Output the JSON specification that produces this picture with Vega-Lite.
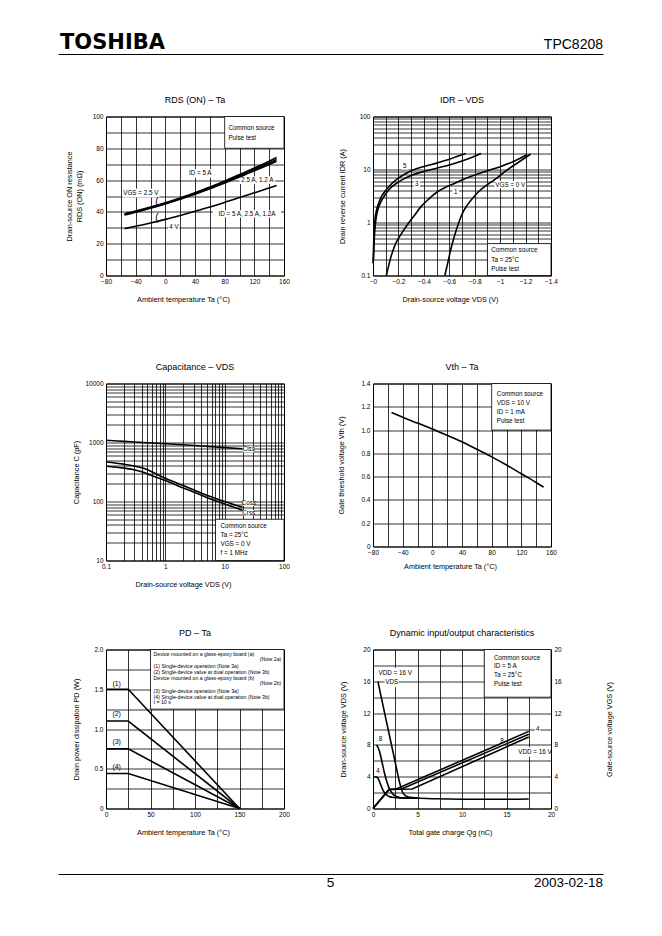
{
"$schema": "https://vega.github.io/schema/vega-lite/v6.json",
"background": "white",
"padding": {"left": 60, "top": 32, "right": 0, "bottom": 0},
"config": {
  "font": "Liberation Sans",
  "view": {"stroke": "black", "strokeWidth": 1},
  "axis": {"grid": true, "gridColor": "black", "gridOpacity": 1, "gridWidth": 0.8, "domain": false, "ticks": false, "tickCount": 1000, "labelFont": "Liberation Sans", "labelFontSize": 6.5, "labelColor": "black", "labelPadding": 3, "labelFlush": false, "labelOverlap": false, "labelBound": false, "titleFont": "Liberation Sans", "titleFontSize": 7.3, "titleFontWeight": "normal", "titleColor": "black"},
  "axisX": {"titleY": 25.5, "titleX": 77, "titleBaseline": "alphabetic"},
  "axisY": {"titleBaseline": "middle"},
  "title": {"font": "Liberation Sans", "fontSize": 9, "fontWeight": "normal", "color": "black", "offset": 9, "baseline": "bottom", "frame": "group"},
  "text": {"font": "Liberation Sans", "fontSize": 6.3, "color": "black"},
  "line": {"color": "black", "strokeWidth": 1.6}
},
"spacing": 37.5,
"vconcat": [
{
  "width": 497, "height": 10, "view": {"stroke": null},
  "layer": [
    {"data": {"values": [{"t": "TOSHIBA", "p": 0}]},
     "mark": {"type": "text", "align": "left", "baseline": "alphabetic", "font": "DejaVu Sans", "fontSize": 21, "fontWeight": "bold", "dx": 2},
     "encoding": {"x": {"field": "p", "type": "quantitative", "scale": {"domain": [0, 1], "range": [-48, 497]}, "axis": {"orient": "bottom", "domain": true, "domainColor": "black", "domainWidth": 1.2, "grid": false, "labels": false, "ticks": true, "values": [0.5], "tickColor": "transparent", "tickSize": 2, "title": null}}, "text": {"field": "t"}}},
    {"data": {"values": [{"t": "TPC8208", "p": 1}]},
     "mark": {"type": "text", "align": "right", "baseline": "alphabetic", "fontSize": 14},
     "encoding": {"x": {"field": "p", "type": "quantitative", "scale": {"domain": [0, 1], "range": [-48, 497]}}, "text": {"field": "t"}}}
  ]
},
{
  "columns": 2, "bounds": "flush", "align": "each", "spacing": {"row": 0, "column": 89},
  "concat": [
  {
    "width": 178, "height": 159, "title": "RDS (ON) – Ta",
    "layer": [
      {"data": {"values": [{"x": 80, "x2": 160, "y": 80, "y2": 100}]},
       "mark": {"type": "rect", "fill": "white", "stroke": "black", "strokeWidth": 0.8},
       "encoding": {"x": {"field": "x", "type": "quantitative", "scale": {"domain": [-80, 160], "nice": false, "zero": false}}, "x2": {"field": "x2"}, "y": {"field": "y", "type": "quantitative", "scale": {"domain": [0, 100], "nice": false, "zero": false}}, "y2": {"field": "y2"}}},
      {"data": {"values": [{"x": 28, "x2": 66, "y": 61.5, "y2": 67}, {"x": 100, "x2": 148, "y": 57.5, "y2": 62.5}, {"x": -58, "x2": -8, "y": 49, "y2": 54.5}, {"x": 64, "x2": 156, "y": 36.5, "y2": 41}, {"x": 4, "x2": 19, "y": 28, "y2": 32.5}]},
       "mark": {"type": "rect", "fill": "white"},
       "encoding": {"x": {"field": "x", "type": "quantitative", "scale": {"domain": [-80, 160], "nice": false, "zero": false}}, "x2": {"field": "x2"}, "y": {"field": "y", "type": "quantitative", "scale": {"domain": [0, 100], "nice": false, "zero": false}}, "y2": {"field": "y2"}}},
      {"data": {"values": [
        {"s": "a", "x": -55, "y": 38.8}, {"s": "a", "x": -40, "y": 40.5}, {"s": "a", "x": -20, "y": 43}, {"s": "a", "x": 0, "y": 45.8}, {"s": "a", "x": 20, "y": 48.8}, {"s": "a", "x": 40, "y": 52}, {"s": "a", "x": 60, "y": 55.6}, {"s": "a", "x": 80, "y": 59.5}, {"s": "a", "x": 100, "y": 63.5}, {"s": "a", "x": 120, "y": 67.6}, {"s": "a", "x": 140, "y": 71.9}, {"s": "a", "x": 150, "y": 74.2},
        {"s": "b", "x": -55, "y": 38.4}, {"s": "b", "x": -40, "y": 40.1}, {"s": "b", "x": -20, "y": 42.6}, {"s": "b", "x": 0, "y": 45.3}, {"s": "b", "x": 20, "y": 48.3}, {"s": "b", "x": 40, "y": 51.5}, {"s": "b", "x": 60, "y": 55}, {"s": "b", "x": 80, "y": 58.8}, {"s": "b", "x": 100, "y": 62.7}, {"s": "b", "x": 120, "y": 66.6}, {"s": "b", "x": 140, "y": 70.7}, {"s": "b", "x": 150, "y": 72.9},
        {"s": "c", "x": -55, "y": 38.1}, {"s": "c", "x": -40, "y": 39.8}, {"s": "c", "x": -20, "y": 42.3}, {"s": "c", "x": 0, "y": 45}, {"s": "c", "x": 20, "y": 48}, {"s": "c", "x": 40, "y": 51.1}, {"s": "c", "x": 60, "y": 54.5}, {"s": "c", "x": 80, "y": 58.2}, {"s": "c", "x": 100, "y": 62}, {"s": "c", "x": 120, "y": 65.8}, {"s": "c", "x": 140, "y": 69.8}, {"s": "c", "x": 150, "y": 71.9},
        {"s": "d", "x": -55, "y": 29.5}, {"s": "d", "x": -40, "y": 31}, {"s": "d", "x": -20, "y": 33}, {"s": "d", "x": 0, "y": 35.3}, {"s": "d", "x": 20, "y": 37.8}, {"s": "d", "x": 40, "y": 40.4}, {"s": "d", "x": 60, "y": 43.1}, {"s": "d", "x": 80, "y": 46}, {"s": "d", "x": 100, "y": 49}, {"s": "d", "x": 120, "y": 52}, {"s": "d", "x": 140, "y": 55}, {"s": "d", "x": 150, "y": 56.6}]},
       "mark": {"type": "line", "interpolate": "monotone"},
       "encoding": {
         "x": {"field": "x", "type": "quantitative", "scale": {"domain": [-80, 160], "nice": false, "zero": false}, "axis": {"values": [-80, -60, -40, -20, 0, 20, 40, 60, 80, 100, 120, 140, 160], "labelExpr": "datum.value % 40 == 0 ? format(datum.value, 'd') : ''", "title": "Ambient temperature   Ta   (°C)"}},
         "y": {"field": "y", "type": "quantitative", "scale": {"domain": [0, 100], "nice": false, "zero": false}, "axis": {"values": [0, 10, 20, 30, 40, 50, 60, 70, 80, 90, 100], "labelExpr": "datum.value % 20 == 0 ? format(datum.value, 'd') : ''", "title": ["Drain-source ON resistance", "RDS (ON)    (mΩ)"], "titleX": -37, "titleLineHeight": 10}},
         "detail": {"field": "s"}}},
      {"data": {"values": [{"x": 47, "y": 64.3, "t": "ID = 5 A"}, {"x": 124, "y": 60, "t": "2.5 A, 1.2 A"}, {"x": -33, "y": 51.6, "t": "VGS = 2.5 V"}, {"x": 110, "y": 38.8, "t": "ID = 5 A, 2.5 A, 1.2A"}, {"x": 11.5, "y": 30.2, "t": "4 V"}]},
       "mark": {"type": "text", "baseline": "middle"},
       "encoding": {"x": {"field": "x", "type": "quantitative", "scale": {"domain": [-80, 160], "nice": false, "zero": false}}, "y": {"field": "y", "type": "quantitative", "scale": {"domain": [0, 100], "nice": false, "zero": false}}, "text": {"field": "t"}}},
      {"data": {"values": [{"x": -11.5, "y": 46.5, "t": "("}, {"x": -11.5, "y": 36.3, "t": "("}]},
       "mark": {"type": "text", "baseline": "middle", "fontSize": 10},
       "encoding": {"x": {"field": "x", "type": "quantitative", "scale": {"domain": [-80, 160], "nice": false, "zero": false}}, "y": {"field": "y", "type": "quantitative", "scale": {"domain": [0, 100], "nice": false, "zero": false}}, "text": {"field": "t"}}},
      {"data": {"values": [{"x": 85, "y": 93, "t": "Common source"}, {"x": 85, "y": 86.5, "t": "Pulse test"}]},
       "mark": {"type": "text", "baseline": "middle", "align": "left"},
       "encoding": {"x": {"field": "x", "type": "quantitative", "scale": {"domain": [-80, 160], "nice": false, "zero": false}}, "y": {"field": "y", "type": "quantitative", "scale": {"domain": [0, 100], "nice": false, "zero": false}}, "text": {"field": "t"}}}
    ]
  },
  {
    "width": 178, "height": 159, "title": "IDR – VDS",
    "layer": [
      {"data": {"values": [{"x": -0.9, "x2": -1.4, "y": 0.1, "y2": 0.4}]},
       "mark": {"type": "rect", "fill": "white", "stroke": "black", "strokeWidth": 0.8},
       "encoding": {"x": {"field": "x", "type": "quantitative", "scale": {"domain": [-1.4, 0], "reverse": true, "nice": false, "zero": false}}, "x2": {"field": "x2"}, "y": {"field": "y", "type": "quantitative", "scale": {"type": "log", "domain": [0.1, 100], "nice": false}}, "y2": {"field": "y2"}}},
      {"data": {"values": [{"x": -0.225, "x2": -0.275, "y": 10, "y2": 13.5}, {"x": -0.32, "x2": -0.37, "y": 4.6, "y2": 6.3}, {"x": -0.625, "x2": -0.675, "y": 3.25, "y2": 4.45}, {"x": -0.955, "x2": -1.205, "y": 4.45, "y2": 6.1}]},
       "mark": {"type": "rect", "fill": "white"},
       "encoding": {"x": {"field": "x", "type": "quantitative", "scale": {"domain": [-1.4, 0], "reverse": true, "nice": false, "zero": false}}, "x2": {"field": "x2"}, "y": {"field": "y", "type": "quantitative", "scale": {"type": "log", "domain": [0.1, 100], "nice": false}}, "y2": {"field": "y2"}}},
      {"data": {"values": [
        {"s": "0", "x": -1.24, "y": 19.5}, {"s": "0", "x": -1.15, "y": 14}, {"s": "0", "x": -1.05, "y": 9.6}, {"s": "0", "x": -0.96, "y": 6.5}, {"s": "0", "x": -0.9, "y": 5.2}, {"s": "0", "x": -0.83, "y": 3.8}, {"s": "0", "x": -0.79, "y": 3.0}, {"s": "0", "x": -0.74, "y": 2.1}, {"s": "0", "x": -0.71, "y": 1.6}, {"s": "0", "x": -0.675, "y": 1.0}, {"s": "0", "x": -0.64, "y": 0.55}, {"s": "0", "x": -0.61, "y": 0.3}, {"s": "0", "x": -0.585, "y": 0.16}, {"s": "0", "x": -0.565, "y": 0.1},
        {"s": "1", "x": -1.21, "y": 19}, {"s": "1", "x": -1.1, "y": 14}, {"s": "1", "x": -1.0, "y": 11.3}, {"s": "1", "x": -0.9, "y": 9.5}, {"s": "1", "x": -0.79, "y": 7.7}, {"s": "1", "x": -0.71, "y": 6.5}, {"s": "1", "x": -0.636, "y": 5.4}, {"s": "1", "x": -0.57, "y": 4.6}, {"s": "1", "x": -0.505, "y": 3.76}, {"s": "1", "x": -0.44, "y": 2.8}, {"s": "1", "x": -0.374, "y": 1.95}, {"s": "1", "x": -0.33, "y": 1.4}, {"s": "1", "x": -0.283, "y": 1.0}, {"s": "1", "x": -0.23, "y": 0.65}, {"s": "1", "x": -0.178, "y": 0.4}, {"s": "1", "x": -0.14, "y": 0.22}, {"s": "1", "x": -0.105, "y": 0.1},
        {"s": "3", "x": -0.85, "y": 20}, {"s": "3", "x": -0.78, "y": 17}, {"s": "3", "x": -0.7, "y": 14.5}, {"s": "3", "x": -0.6, "y": 12.2}, {"s": "3", "x": -0.5, "y": 10.6}, {"s": "3", "x": -0.4, "y": 9.2}, {"s": "3", "x": -0.3, "y": 7.7}, {"s": "3", "x": -0.25, "y": 6.8}, {"s": "3", "x": -0.19, "y": 5.6}, {"s": "3", "x": -0.13, "y": 4.3}, {"s": "3", "x": -0.09, "y": 3.2}, {"s": "3", "x": -0.06, "y": 2.4}, {"s": "3", "x": -0.04, "y": 1.8}, {"s": "3", "x": -0.02, "y": 1.0}, {"s": "3", "x": -0.01, "y": 0.5}, {"s": "3", "x": -0.005, "y": 0.25}, {"s": "3", "x": -0.002, "y": 0.17},
        {"s": "5", "x": -0.73, "y": 20}, {"s": "5", "x": -0.67, "y": 18}, {"s": "5", "x": -0.6, "y": 15.6}, {"s": "5", "x": -0.5, "y": 13.2}, {"s": "5", "x": -0.4, "y": 11.4}, {"s": "5", "x": -0.33, "y": 10.1}, {"s": "5", "x": -0.27, "y": 8.7}, {"s": "5", "x": -0.2, "y": 6.9}, {"s": "5", "x": -0.14, "y": 5.2}, {"s": "5", "x": -0.1, "y": 4.0}, {"s": "5", "x": -0.07, "y": 3.2}, {"s": "5", "x": -0.047, "y": 2.4}, {"s": "5", "x": -0.03, "y": 1.8}, {"s": "5", "x": -0.013, "y": 1.0}, {"s": "5", "x": -0.007, "y": 0.5}, {"s": "5", "x": -0.003, "y": 0.25}, {"s": "5", "x": -0.001, "y": 0.17}]},
       "mark": {"type": "line", "interpolate": "monotone"},
       "encoding": {
         "x": {"field": "x", "type": "quantitative", "scale": {"domain": [-1.4, 0], "reverse": true, "nice": false, "zero": false}, "axis": {"values": [-1.4, -1.3, -1.2, -1.1, -1, -0.9, -0.8, -0.7, -0.6, -0.5, -0.4, -0.3, -0.2, -0.1, 0], "labelExpr": "abs(round(datum.value * 10)) % 2 == 0 ? (datum.value == 0 ? '−0' : format(datum.value, '~g')) : ''", "title": "Drain-source voltage   VDS   (V)"}},
         "y": {"field": "y", "type": "quantitative", "scale": {"type": "log", "domain": [0.1, 100], "nice": false}, "axis": {"values": [0.1, 0.2, 0.3, 0.4, 0.5, 0.6, 0.7, 0.8, 0.9, 1, 2, 3, 4, 5, 6, 7, 8, 9, 10, 20, 30, 40, 50, 60, 70, 80, 90, 100], "labelExpr": "datum.value == 0.1 ? '0.1' : datum.value == 1 ? '1' : datum.value == 10 ? '10' : datum.value == 100 ? '100' : ''", "title": "Drain reverse current    IDR    (A)", "titleX": -31}},
         "detail": {"field": "s"}}},
      {"data": {"values": [{"x": -0.25, "y": 11.6, "t": "5"}, {"x": -0.345, "y": 5.4, "t": "3"}, {"x": -0.65, "y": 3.8, "t": "1"}, {"x": -1.08, "y": 5.2, "t": "VGS = 0 V"}]},
       "mark": {"type": "text", "baseline": "middle"},
       "encoding": {"x": {"field": "x", "type": "quantitative", "scale": {"domain": [-1.4, 0], "reverse": true, "nice": false, "zero": false}}, "y": {"field": "y", "type": "quantitative", "scale": {"type": "log", "domain": [0.1, 100], "nice": false}}, "text": {"field": "t"}}},
      {"data": {"values": [{"x": -0.93, "y": 0.3, "t": "Common source"}, {"x": -0.93, "y": 0.2, "t": "Ta = 25°C"}, {"x": -0.93, "y": 0.134, "t": "Pulse test"}]},
       "mark": {"type": "text", "baseline": "middle", "align": "left"},
       "encoding": {"x": {"field": "x", "type": "quantitative", "scale": {"domain": [-1.4, 0], "reverse": true, "nice": false, "zero": false}}, "y": {"field": "y", "type": "quantitative", "scale": {"type": "log", "domain": [0.1, 100], "nice": false}}, "text": {"field": "t"}}}
    ]
  },
  {"width": 178, "height": 108, "data": {"values": []}, "mark": "point", "view": {"stroke": null}},
  {"width": 178, "height": 108, "data": {"values": []}, "mark": "point", "view": {"stroke": null}},
  {
    "width": 178, "height": 177, "title": "Capacitance – VDS",
    "layer": [
      {"data": {"values": [{"x": 7, "x2": 100, "y": 10, "y2": 50}]},
       "mark": {"type": "rect", "fill": "white", "stroke": "black", "strokeWidth": 0.8},
       "encoding": {"x": {"field": "x", "type": "quantitative", "scale": {"type": "log", "domain": [0.1, 100], "nice": false}}, "x2": {"field": "x2"}, "y": {"field": "y", "type": "quantitative", "scale": {"type": "log", "domain": [10, 10000], "nice": false}}, "y2": {"field": "y2"}}},
      {"data": {"values": [{"x": 20.5, "x2": 31, "y": 680, "y2": 860}, {"x": 20.5, "x2": 31, "y": 84, "y2": 103}, {"x": 20.5, "x2": 31, "y": 58, "y2": 72}]},
       "mark": {"type": "rect", "fill": "white"},
       "encoding": {"x": {"field": "x", "type": "quantitative", "scale": {"type": "log", "domain": [0.1, 100], "nice": false}}, "x2": {"field": "x2"}, "y": {"field": "y", "type": "quantitative", "scale": {"type": "log", "domain": [10, 10000], "nice": false}}, "y2": {"field": "y2"}}},
      {"data": {"values": [
        {"s": "Ciss", "x": 0.1, "y": 1090}, {"s": "Ciss", "x": 0.2, "y": 1045}, {"s": "Ciss", "x": 0.5, "y": 990}, {"s": "Ciss", "x": 1, "y": 955}, {"s": "Ciss", "x": 2, "y": 915}, {"s": "Ciss", "x": 5, "y": 860}, {"s": "Ciss", "x": 10, "y": 820}, {"s": "Ciss", "x": 20, "y": 785},
        {"s": "Coss", "x": 0.1, "y": 468}, {"s": "Coss", "x": 0.2, "y": 430}, {"s": "Coss", "x": 0.3, "y": 400}, {"s": "Coss", "x": 0.4, "y": 372}, {"s": "Coss", "x": 0.5, "y": 345}, {"s": "Coss", "x": 0.7, "y": 292}, {"s": "Coss", "x": 1, "y": 248}, {"s": "Coss", "x": 2, "y": 186}, {"s": "Coss", "x": 3, "y": 158}, {"s": "Coss", "x": 5, "y": 128}, {"s": "Coss", "x": 10, "y": 100}, {"s": "Coss", "x": 20, "y": 80},
        {"s": "Crss", "x": 0.1, "y": 395}, {"s": "Crss", "x": 0.2, "y": 368}, {"s": "Crss", "x": 0.3, "y": 345}, {"s": "Crss", "x": 0.4, "y": 318}, {"s": "Crss", "x": 0.5, "y": 293}, {"s": "Crss", "x": 0.7, "y": 258}, {"s": "Crss", "x": 1, "y": 226}, {"s": "Crss", "x": 2, "y": 170}, {"s": "Crss", "x": 3, "y": 145}, {"s": "Crss", "x": 5, "y": 117}, {"s": "Crss", "x": 10, "y": 91}, {"s": "Crss", "x": 20, "y": 71}]},
       "mark": {"type": "line", "interpolate": "monotone"},
       "encoding": {
         "x": {"field": "x", "type": "quantitative", "scale": {"type": "log", "domain": [0.1, 100], "nice": false}, "axis": {"values": [0.1, 0.2, 0.3, 0.4, 0.5, 0.6, 0.7, 0.8, 0.9, 1, 2, 3, 4, 5, 6, 7, 8, 9, 10, 20, 30, 40, 50, 60, 70, 80, 90, 100], "labelExpr": "datum.value == 0.1 ? '0.1' : datum.value == 1 ? '1' : datum.value == 10 ? '10' : datum.value == 100 ? '100' : ''", "title": "Drain-source voltage   VDS   (V)"}},
         "y": {"field": "y", "type": "quantitative", "scale": {"type": "log", "domain": [10, 10000], "nice": false}, "axis": {"values": [10, 20, 30, 40, 50, 60, 70, 80, 90, 100, 200, 300, 400, 500, 600, 700, 800, 900, 1000, 2000, 3000, 4000, 5000, 6000, 7000, 8000, 9000, 10000], "labelExpr": "datum.value == 10 || datum.value == 100 || datum.value == 1000 || datum.value == 10000 ? format(datum.value, 'd') : ''", "title": "Capacitance    C    (pF)", "titleX": -30}},
         "detail": {"field": "s"}}},
      {"data": {"values": [{"x": 25.5, "y": 765, "t": "Ciss"}, {"x": 25.5, "y": 93, "t": "Coss"}, {"x": 25.5, "y": 65, "t": "Crss"}]},
       "mark": {"type": "text", "baseline": "middle"},
       "encoding": {"x": {"field": "x", "type": "quantitative", "scale": {"type": "log", "domain": [0.1, 100], "nice": false}}, "y": {"field": "y", "type": "quantitative", "scale": {"type": "log", "domain": [10, 10000], "nice": false}}, "text": {"field": "t"}}},
      {"data": {"values": [{"x": 8.5, "y": 38, "t": "Common source"}, {"x": 8.5, "y": 27, "t": "Ta = 25°C"}, {"x": 8.5, "y": 19.2, "t": "VGS = 0 V"}, {"x": 8.5, "y": 13.5, "t": "f = 1 MHz"}]},
       "mark": {"type": "text", "baseline": "middle", "align": "left"},
       "encoding": {"x": {"field": "x", "type": "quantitative", "scale": {"type": "log", "domain": [0.1, 100], "nice": false}}, "y": {"field": "y", "type": "quantitative", "scale": {"type": "log", "domain": [10, 10000], "nice": false}}, "text": {"field": "t"}}}
    ]
  },
  {
    "width": 178, "height": 163, "title": "Vth – Ta",
    "layer": [
      {"data": {"values": [{"x": 80, "x2": 160, "y": 1.0, "y2": 1.4}]},
       "mark": {"type": "rect", "fill": "white", "stroke": "black", "strokeWidth": 0.8},
       "encoding": {"x": {"field": "x", "type": "quantitative", "scale": {"domain": [-80, 160], "nice": false, "zero": false}}, "x2": {"field": "x2"}, "y": {"field": "y", "type": "quantitative", "scale": {"domain": [0, 1.4], "nice": false, "zero": false}}, "y2": {"field": "y2"}}},
      {"data": {"values": [{"x": -55, "y": 1.15}, {"x": -40, "y": 1.11}, {"x": -20, "y": 1.06}, {"x": 0, "y": 1.01}, {"x": 20, "y": 0.955}, {"x": 40, "y": 0.9}, {"x": 60, "y": 0.835}, {"x": 80, "y": 0.77}, {"x": 100, "y": 0.7}, {"x": 120, "y": 0.625}, {"x": 140, "y": 0.55}, {"x": 150, "y": 0.51}]},
       "mark": {"type": "line", "interpolate": "monotone"},
       "encoding": {
         "x": {"field": "x", "type": "quantitative", "scale": {"domain": [-80, 160], "nice": false, "zero": false}, "axis": {"values": [-80, -60, -40, -20, 0, 20, 40, 60, 80, 100, 120, 140, 160], "labelExpr": "datum.value % 40 == 0 ? format(datum.value, 'd') : ''", "title": "Ambient temperature   Ta   (°C)", "titleY": 22}},
         "y": {"field": "y", "type": "quantitative", "scale": {"domain": [0, 1.4], "nice": false, "zero": false}, "axis": {"values": [0, 0.2, 0.4, 0.6, 0.8, 1, 1.2, 1.4], "labelExpr": "datum.value == 0 ? '0' : format(datum.value, '.1f')", "title": "Gate threshold voltage    Vth    (V)", "titleX": -32}}}},
      {"data": {"values": [{"x": 87, "y": 1.31, "t": "Common source"}, {"x": 87, "y": 1.235, "t": "VDS = 10 V"}, {"x": 87, "y": 1.157, "t": "ID = 1 mA"}, {"x": 87, "y": 1.08, "t": "Pulse test"}]},
       "mark": {"type": "text", "baseline": "middle", "align": "left"},
       "encoding": {"x": {"field": "x", "type": "quantitative", "scale": {"domain": [-80, 160], "nice": false, "zero": false}}, "y": {"field": "y", "type": "quantitative", "scale": {"domain": [0, 1.4], "nice": false, "zero": false}}, "text": {"field": "t"}}}
    ]
  },
  {"width": 178, "height": 89, "data": {"values": []}, "mark": "point", "view": {"stroke": null}},
  {"width": 178, "height": 89, "data": {"values": []}, "mark": "point", "view": {"stroke": null}},
  {
    "width": 178, "height": 159, "title": "PD – Ta",
    "layer": [
      {"data": {"values": [{"x": 50, "x2": 200, "y": 1.25, "y2": 2.0}]},
       "mark": {"type": "rect", "fill": "white", "stroke": "black", "strokeWidth": 0.8},
       "encoding": {"x": {"field": "x", "type": "quantitative", "scale": {"domain": [0, 200], "nice": false, "zero": false}}, "x2": {"field": "x2"}, "y": {"field": "y", "type": "quantitative", "scale": {"domain": [0, 2], "nice": false, "zero": false}}, "y2": {"field": "y2"}}},
      {"data": {"values": [
        {"s": "1", "x": 0, "y": 1.5}, {"s": "1", "x": 25, "y": 1.5}, {"s": "1", "x": 150, "y": 0},
        {"s": "2", "x": 0, "y": 1.1}, {"s": "2", "x": 25, "y": 1.1}, {"s": "2", "x": 150, "y": 0},
        {"s": "3", "x": 0, "y": 0.75}, {"s": "3", "x": 25, "y": 0.75}, {"s": "3", "x": 150, "y": 0},
        {"s": "4", "x": 0, "y": 0.44}, {"s": "4", "x": 25, "y": 0.44}, {"s": "4", "x": 150, "y": 0}]},
       "mark": {"type": "line"},
       "encoding": {
         "x": {"field": "x", "type": "quantitative", "scale": {"domain": [0, 200], "nice": false, "zero": false}, "axis": {"values": [0, 25, 50, 75, 100, 125, 150, 175, 200], "labelExpr": "datum.value % 50 == 0 ? format(datum.value, 'd') : ''", "title": "Ambient temperature   Ta   (°C)"}},
         "y": {"field": "y", "type": "quantitative", "scale": {"domain": [0, 2], "nice": false, "zero": false}, "axis": {"values": [0, 0.25, 0.5, 0.75, 1, 1.25, 1.5, 1.75, 2], "labelExpr": "(datum.value * 2) % 1 == 0 ? (datum.value == 0 ? '0' : format(datum.value, '.1f')) : ''", "title": "Drain power dissipation    PD    (W)", "titleX": -30}},
         "detail": {"field": "s"}}},
      {"data": {"values": [{"x": 12, "y": 1.57, "t": "(1)"}, {"x": 12, "y": 1.19, "t": "(2)"}, {"x": 12, "y": 0.835, "t": "(3)"}, {"x": 12, "y": 0.52, "t": "(4)"}]},
       "mark": {"type": "text", "baseline": "middle", "fontSize": 7},
       "encoding": {"x": {"field": "x", "type": "quantitative", "scale": {"domain": [0, 200], "nice": false, "zero": false}}, "y": {"field": "y", "type": "quantitative", "scale": {"domain": [0, 2], "nice": false, "zero": false}}, "text": {"field": "t"}}},
      {"data": {"values": [{"x": 53.5, "y": 1.946, "t": "Device mounted on a glass-epoxy board (a)"}, {"x": 53.5, "y": 1.787, "t": "(1) Single-device operation (Note 3a)"}, {"x": 53.5, "y": 1.716, "t": "(2) Single-device value at dual operation (Note 3b)"}, {"x": 53.5, "y": 1.645, "t": "Device mounted on a glass-epoxy board (b)"}, {"x": 53.5, "y": 1.474, "t": "(3) Single-device operation (Note 3a)"}, {"x": 53.5, "y": 1.407, "t": "(4) Single-device value at dual operation (Note 3b)"}, {"x": 53.5, "y": 1.336, "t": "t = 10 s"}]},
       "mark": {"type": "text", "baseline": "middle", "align": "left", "fontSize": 5.2},
       "encoding": {"x": {"field": "x", "type": "quantitative", "scale": {"domain": [0, 200], "nice": false, "zero": false}}, "y": {"field": "y", "type": "quantitative", "scale": {"domain": [0, 2], "nice": false, "zero": false}}, "text": {"field": "t"}}},
      {"data": {"values": [{"x": 197, "y": 1.883, "t": "(Note 2a)"}, {"x": 197, "y": 1.574, "t": "(Note 2b)"}]},
       "mark": {"type": "text", "baseline": "middle", "align": "right", "fontSize": 5.2},
       "encoding": {"x": {"field": "x", "type": "quantitative", "scale": {"domain": [0, 200], "nice": false, "zero": false}}, "y": {"field": "y", "type": "quantitative", "scale": {"domain": [0, 2], "nice": false, "zero": false}}, "text": {"field": "t"}}}
    ]
  },
  {
    "width": 178, "height": 159, "title": "Dynamic input/output characteristics",
    "resolve": {"scale": {"y": "independent"}},
    "layer": [
      {"layer": [
        {"data": {"values": [{"x": 12.5, "x2": 20, "y": 14, "y2": 20}]},
         "mark": {"type": "rect", "fill": "white", "stroke": "black", "strokeWidth": 0.8},
         "encoding": {"x": {"field": "x", "type": "quantitative", "scale": {"domain": [0, 20], "nice": false, "zero": false}}, "x2": {"field": "x2"}, "y": {"field": "y", "type": "quantitative", "scale": {"domain": [0, 20], "nice": false, "zero": false}}, "y2": {"field": "y2"}}},
        {"data": {"values": [{"x": 0.35, "x2": 4.65, "y": 16.3, "y2": 17.7}, {"x": 1.3, "x2": 2.9, "y": 15.25, "y2": 16.55}, {"x": 0.6, "x2": 1.1, "y": 8.1, "y2": 9.3}, {"x": 0.33, "x2": 0.8, "y": 4.15, "y2": 5.35}, {"x": 14.2, "x2": 14.8, "y": 7.9, "y2": 9.1}, {"x": 18.2, "x2": 18.8, "y": 9.4, "y2": 10.6}, {"x": 16.45, "x2": 19.9, "y": 6.5, "y2": 7.7}]},
         "mark": {"type": "rect", "fill": "white"},
         "encoding": {"x": {"field": "x", "type": "quantitative", "scale": {"domain": [0, 20], "nice": false, "zero": false}}, "x2": {"field": "x2"}, "y": {"field": "y", "type": "quantitative", "scale": {"domain": [0, 20], "nice": false, "zero": false}}, "y2": {"field": "y2"}}},
        {"data": {"values": [
          {"s": "16", "x": 0.55, "y": 16}, {"s": "16", "x": 1, "y": 13.6}, {"s": "16", "x": 1.5, "y": 11}, {"s": "16", "x": 2, "y": 8.4}, {"s": "16", "x": 2.5, "y": 5.8}, {"s": "16", "x": 2.8, "y": 4.2}, {"s": "16", "x": 3.05, "y": 3.0}, {"s": "16", "x": 3.3, "y": 2.1}, {"s": "16", "x": 3.6, "y": 1.65}, {"s": "16", "x": 4, "y": 1.45}, {"s": "16", "x": 5, "y": 1.32}, {"s": "16", "x": 7, "y": 1.22}, {"s": "16", "x": 10, "y": 1.16}, {"s": "16", "x": 14, "y": 1.16}, {"s": "16", "x": 17.5, "y": 1.2},
          {"s": "8", "x": 0.4, "y": 8}, {"s": "8", "x": 0.7, "y": 7.3}, {"s": "8", "x": 1.0, "y": 5.9}, {"s": "8", "x": 1.3, "y": 4.4}, {"s": "8", "x": 1.6, "y": 3.2}, {"s": "8", "x": 1.9, "y": 2.35}, {"s": "8", "x": 2.3, "y": 1.75}, {"s": "8", "x": 2.8, "y": 1.45}, {"s": "8", "x": 3.5, "y": 1.33}, {"s": "8", "x": 5, "y": 1.3},
          {"s": "4", "x": 0.15, "y": 4}, {"s": "4", "x": 0.5, "y": 3.9}, {"s": "4", "x": 0.8, "y": 3.2}, {"s": "4", "x": 1.1, "y": 2.35}, {"s": "4", "x": 1.4, "y": 1.85}, {"s": "4", "x": 1.8, "y": 1.52}, {"s": "4", "x": 2.4, "y": 1.38}, {"s": "4", "x": 3.5, "y": 1.31}, {"s": "4", "x": 5, "y": 1.3}]},
         "mark": {"type": "line", "interpolate": "monotone"},
         "encoding": {
           "x": {"field": "x", "type": "quantitative", "scale": {"domain": [0, 20], "nice": false, "zero": false}, "axis": {"values": [0, 2.5, 5, 7.5, 10, 12.5, 15, 17.5, 20], "labelExpr": "datum.value % 5 == 0 ? format(datum.value, 'd') : ''", "title": "Total gate charge   Qg   (nC)"}},
           "y": {"field": "y", "type": "quantitative", "scale": {"domain": [0, 20], "nice": false, "zero": false}, "axis": {"values": [0, 2, 4, 6, 8, 10, 12, 14, 16, 18, 20], "labelExpr": "datum.value % 4 == 0 ? format(datum.value, 'd') : ''", "title": "Drain-source voltage    VDS    (V)", "titleX": -30}},
           "detail": {"field": "s"}}},
        {"data": {"values": [{"x": 2.5, "y": 17, "t": "VDD = 16 V"}, {"x": 2.1, "y": 15.9, "t": "VDS"}, {"x": 0.85, "y": 8.7, "t": "8"}, {"x": 0.56, "y": 4.75, "t": "4"}, {"x": 14.5, "y": 8.5, "t": "8"}, {"x": 18.5, "y": 10, "t": "4"}, {"x": 18.2, "y": 7.1, "t": "VDD = 16 V"}]},
         "mark": {"type": "text", "baseline": "middle"},
         "encoding": {"x": {"field": "x", "type": "quantitative", "scale": {"domain": [0, 20], "nice": false, "zero": false}}, "y": {"field": "y", "type": "quantitative", "scale": {"domain": [0, 20], "nice": false, "zero": false}}, "text": {"field": "t"}}},
        {"data": {"values": [{"x": 13.6, "y": 18.95, "t": "Common source"}, {"x": 13.6, "y": 17.87, "t": "ID = 5 A"}, {"x": 13.6, "y": 16.74, "t": "Ta = 25°C"}, {"x": 13.6, "y": 15.6, "t": "Pulse test"}]},
         "mark": {"type": "text", "baseline": "middle", "align": "left"},
         "encoding": {"x": {"field": "x", "type": "quantitative", "scale": {"domain": [0, 20], "nice": false, "zero": false}}, "y": {"field": "y", "type": "quantitative", "scale": {"domain": [0, 20], "nice": false, "zero": false}}, "text": {"field": "t"}}}
      ]},
      {"data": {"values": [
        {"s": "4", "x": 0, "y": 0}, {"s": "4", "x": 1.8, "y": 2.4}, {"s": "4", "x": 2.6, "y": 2.45}, {"s": "4", "x": 17.5, "y": 9.7},
        {"s": "8", "x": 0, "y": 0}, {"s": "8", "x": 1.8, "y": 2.4}, {"s": "8", "x": 3.2, "y": 2.45}, {"s": "8", "x": 17.5, "y": 9.35},
        {"s": "16", "x": 0, "y": 0}, {"s": "16", "x": 1.8, "y": 2.4}, {"s": "16", "x": 4.4, "y": 2.45}, {"s": "16", "x": 17.5, "y": 9.0}]},
       "mark": {"type": "line"},
       "encoding": {
         "x": {"field": "x", "type": "quantitative", "scale": {"domain": [0, 20], "nice": false, "zero": false}},
         "y": {"field": "y", "type": "quantitative", "scale": {"domain": [0, 20], "nice": false, "zero": false}, "axis": {"orient": "right", "grid": false, "values": [0, 4, 8, 12, 16, 20], "labelExpr": "format(datum.value, 'd')", "title": "Gate-source voltage    VGS    (V)", "titleAngle": 270, "titleX": 58}},
         "detail": {"field": "s"}}}
    ]
  }
  ]
},
{
  "width": 497, "height": 26, "view": {"stroke": null},
  "layer": [
    {"data": {"values": [{"t": "5", "p": 0.5}]},
     "mark": {"type": "text", "align": "center", "baseline": "alphabetic", "fontSize": 13.5},
     "encoding": {"x": {"field": "p", "type": "quantitative", "scale": {"domain": [0, 1], "range": [-48, 497]}, "axis": {"orient": "top", "domain": true, "domainColor": "black", "domainWidth": 1.2, "grid": false, "labels": false, "ticks": false, "values": [0.5], "title": null}}, "text": {"field": "t"}}},
    {"data": {"values": [{"t": "2003-02-18", "p": 1}]},
     "mark": {"type": "text", "align": "right", "baseline": "alphabetic", "fontSize": 13.5},
     "encoding": {"x": {"field": "p", "type": "quantitative", "scale": {"domain": [0, 1], "range": [-48, 497]}}, "text": {"field": "t"}}}
  ]
}
]
}
